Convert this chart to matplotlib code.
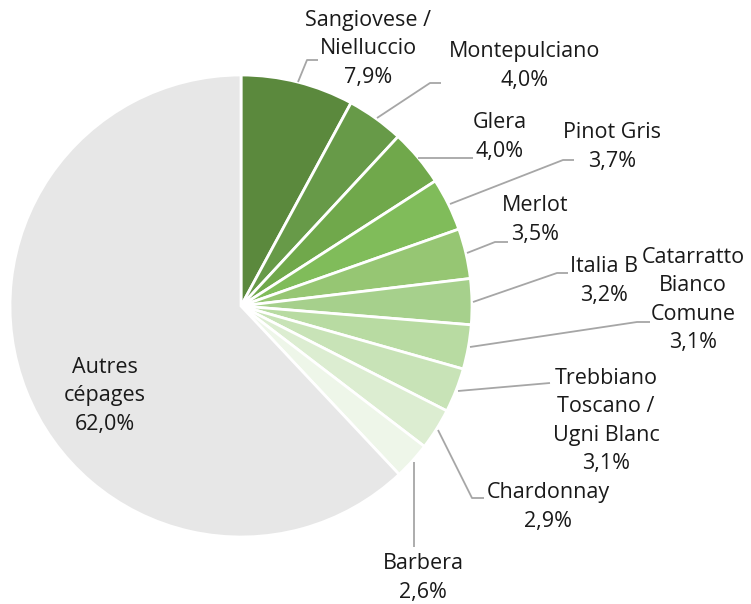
import matplotlib.pyplot as plt

# --------------------------
# data
# --------------------------
labels = ["Sangiovese /\nNielluccio", "Montepulciano", "Glera", "Pinot Gris", "Merlot",
          "Italia B", "Catarratto\nBianco\nComune", "Trebbiano\nToscano /\nUgni Blanc",
          "Chardonnay", "Barbera", "Autres\ncépages"]
shares = [7.9, 4.0, 4.0, 3.7, 3.5, 3.2, 3.1, 3.1, 2.9, 2.6, 62.0]
colors = ["#5b893d", "#679a48", "#70a84b", "#80bc5a", "#96c673", "#a6d08c",
          "#b8dba2", "#c8e3b7", "#dcedd1", "#eef6e9", "#e7e7e7"]

# label centre (px) and leader line points (px), image coords
label_pos = [(368, 49), (525, 66), (500, 137), (612, 147), (535, 220), (604, 281),
             (693, 300), (606, 421), (548, 507), (423, 578), (105, 396)]
leaders = [
    [(298, 82), (307, 60), (318, 60)],
    [(377, 118), (430, 83), (441, 83)],
    [(418, 158), (473, 158)],
    [(450, 204), (563, 160), (574, 160)],
    [(467, 253), (495, 242), (508, 242)],
    [(473, 302), (557, 273), (568, 273)],
    [(470, 347), (637, 322), (650, 322)],
    [(458, 391), (550, 383)],
    [(438, 430), (472, 498), (484, 498)],
    [(414, 462), (414, 547)],
    None,
]

W, H = 751, 604
plt.rcParams['font.family'] = ['Open Sans', 'DejaVu Sans']

fig = plt.figure(figsize=(W / 100, H / 100), dpi=100)
ax = fig.add_axes([0, 0, 1, 1])

ax.pie(shares, colors=colors, startangle=90, counterclock=False,
       center=(241, H - 306), radius=231, frame=True,
       wedgeprops=dict(edgecolor="white", linewidth=2))
ax.set_xlim(0, W)
ax.set_ylim(0, H)
ax.set_aspect('equal')
ax.axis('off')

for lab, val, (x, y), pts in zip(labels, shares, label_pos, leaders):
    txt = lab + "\n" + f"{val:.1f}%".replace(".", ",")
    ax.text(x, H - y, txt, ha="center", va="center", fontsize=15.5,
            color="#1a1a1a", linespacing=1.45)
    if pts:
        ax.plot([p[0] for p in pts], [H - p[1] for p in pts],
                color="#a6a6a6", lw=1.3, solid_capstyle="butt")

fig.savefig("out.png", dpi=100)
